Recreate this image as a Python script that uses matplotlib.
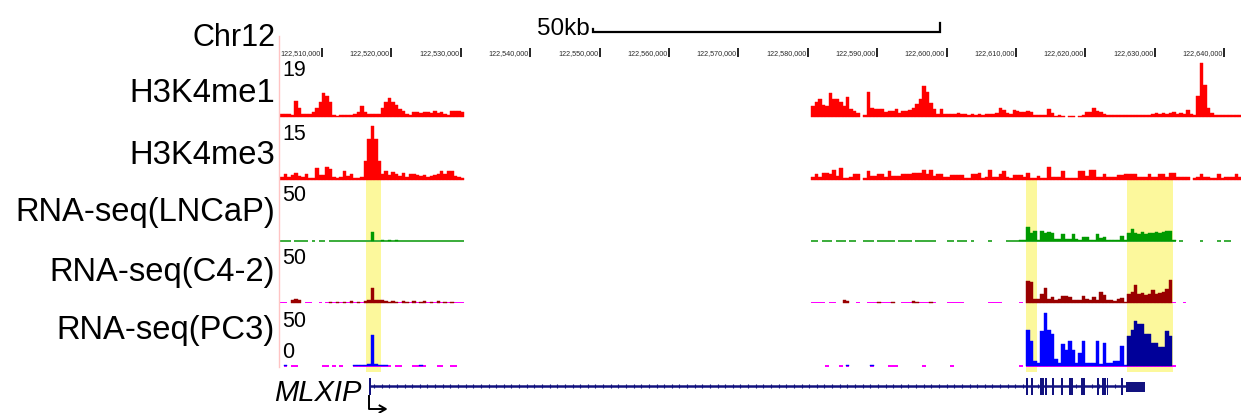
import numpy as np
import matplotlib
matplotlib.use("Agg")
import matplotlib.pyplot as plt
from matplotlib.lines import Line2D
from matplotlib.patches import Rectangle

plt.rcParams['font.family'] = ['Liberation Sans', 'DejaVu Sans']

# ---------------------------------------------------------------- data
CHROM = "Chr12"
GENE_NAME = "MLXIP"
SCALE_LABEL = "50kb"
SCALE_BAR = (122_549_000, 122_599_000)

RULER_TICKS = [122_510_000, 122_520_000, 122_530_000, 122_540_000, 122_550_000,
               122_560_000, 122_570_000, 122_580_000, 122_590_000, 122_600_000,
               122_610_000, 122_620_000, 122_630_000, 122_640_000]

BIN_SIZE = 500
LEFT_START = 122_504_000
RIGHT_START = 122_580_500

TRACK_LABELS = ["H3K4me1", "H3K4me3", "RNA-seq(LNCaP)", "RNA-seq(C4-2)", "RNA-seq(PC3)"]
TRACK_MAX = [19, 15, 50, 50, 50]

H3K4ME1_LEFT = [1, 0.8, 1, 0.5, 5.4, 3, 0.8, 1, 1, 1.5, 3, 5, 8, 7, 5, 0.4, 0.3, 0.6,
                0.6, 0.6, 0.5, 1, 1.5, 3.7, 1.5, 1, 0.8, 0.8, 0.8, 3, 5, 6.5, 5, 4,
                2.5, 2, 1, 0.6, 1.5, 1.5, 1.2, 1.5, 1.5, 1.3, 1.8, 1.2, 1.5, 1, 0.6,
                2, 1.8, 2, 1.5]
H3K4ME1_RIGHT = [3.7, 5, 6, 4, 3.7, 8, 6, 6, 5, 3.7, 6.8, 2.5,
                 2, 1.2, None, 0.5, 8.5, 3, 2.7, 2.7, 2.5, 1.5, 2, 2,
                 2.5, 1.2, 2, 2, 2.2, 2.8, 4.2, 6, 10.6, 8.3, 4.8, 2.5,
                 1, 2.5, 1, 0.8, 1, 1, 1.2, 0.8, 1, 0.6, 0.8, 0.6,
                 1, 0.5, 0.8, 1, 0.8, 1.2, 2.8, 2.2, 1.2, 1, 2.3, 2,
                 1.6, 1.6, 1.8, 1.5, 0.6, 0.5, 0.4, 0.5, 2.5, 1.2, 0.3, 0.4,
                 0.3, None, 0.3, 0.3, None, 0.3, 0.6, 1.4, 1.4, 3.1, 2, 1.4,
                 0.8, 0.5, 0.4, 0.5, 0.4, 0.5, 0.4, 0.5, 0.6, 0.5, 0.6, 0.5,
                 0.6, 0.5, 0.8, 1.2, 1, 1.2, 1, 1.2, 1.5, 0.8, 1.2, 1,
                 2.3, 1, 0.5, 7, 18.4, 11, 3.1, 1.2, 0.5, 0.4, 0.5, 0.4,
                 0.5, 0.4, 0.5, 0.4]

H3K4ME3_LEFT = [0.6, 1.4, 0.8, 1.2, 1.8, 1, 0.6, 1.5, 0.5, 0.4, 3.2, 1.2, 1.3, 3.4,
                3, 0.6, 0.4, 0.6, 2.3, 1, 1.4, 0.5, 0.4, 0.6, 5, 11, 14.5, 11, 5,
                1.5, 2.3, 1.2, 2, 1.5, 1, 1.8, 0.8, 1.4, 1.4, 1.2, 1, 1.2, 0.8, 1,
                1.2, 1.4, 2.3, 1.4, 2.3, 2.3, 1, 0.8, 0.5]
H3K4ME3_RIGHT = [0.6, 1.4, 0.6, 1.8, 1.8, 1.5, 2.7, 1, 3.2, 0.4, 0.4, 0.6,
                 1.4, 1.4, None, 0.3, 2.3, 1, 1, 1.4, 1.4, 0.6, 2.3, 1,
                 1, 1, 1.4, 1.4, 1.4, 1.8, 1.8, 1.8, 2.7, 1.5, 2.7, 1,
                 1.4, 1.4, 0.6, 0.6, 1.1, 1.1, 1.1, 1.1, 0.5, 0.4, 1.4, 1.4,
                 1.8, 0.5, 0.6, 2.7, 0.6, 0.8, 1.4, 2.3, 0.6, 0.5, 1.1, 1.1,
                 1.1, 0.6, 1.8, 0.5, 0.5, 0.9, 0.5, 0.5, 3.5, 0.8, 0.8, 0.8,
                 2.3, 0.5, 0.5, 0.4, 0.5, 2.3, 2.3, 1, 2.5, 2.5, 0.8, 0.8,
                 1.4, 0.8, 0.8, 0.6, 1.1, 1.1, 1.4, 1.4, 1.4, 1.4, 0.8, 0.8,
                 0.8, 1.4, 0.8, 0.6, 1.4, 1.4, 0.6, 1.8, 1.8, 0.8, 0.6, 0.8,
                 0.6, None, 0.4, 0.6, 1.4, 0.6, 0.6, 0.4, 0.5, 1.4, 0.5, 0.8,
                 0.6, 0.8, 1.4, 0.6]

LNCAP_LEFT = [0, 0, 0, None, 0, 0, 0, 0, None, 0, None, 0, 0, None,
              0, 0, 0, 0, 0, 0, 0, 0, 0, 0, 0, 0,
              8, 0, 0, 0.8, 0, 0.8, 0, 0.5,
              0, 0, 0, 0, 0, 0, 0, 0, 0, 0, 0, 0, 0, 0, 0, 0, 0, 0, 0]
LNCAP_RIGHT = [0, 0, None, 0, 0, 0, None, 0, 0, 0, None, 0, 0,
               None, None,
               0, 0, 0, None, 0, 0, 0, 0, 0,
               None,
               0, 0, 0, 0, None, 0, 0, 0, 0, 0, 0,
               None, None, None,
               0, 0, None, 0, 0, 0, None, 0,
               None, None, None, None,
               0,
               None, None, None, None,
               0, 0, 0, 0, 0.5, 0.5,
               12.7, 7.5, 9, 0.5, 9, 7, 8, 7, 2, 1.5,
               6, 2, 2, 6, 2, 0.5, 4, 4, 1, 0.8,
               6, 3, 4, 0.5, 0.5, 0.5, 0.5, 5, 0.5,
               7, 11, 7, 6, 8, 6, 7, 7, 8, 7, 8, 9, 9,
               0.5, None, 0,
               None, None, None, None, None,
               0,
               None, None, None, None,
               0, None, 0, 0,
               None, None, None]

C42_LEFT = [0, 0, None, 2, 3.6, 2.5, None, 0, 0, None,
            None, 0, None, 0, 0.5, 0, 0.8, 0, 0.5, 0,
            1, 0, 0.5, 0, 1.5, 2, 13.6, 2, 2.5, 2,
            1, 0.5, 1, 0.5, 0, 1, 0.5, 0, 1, 0,
            0.5, 1, 0, 0.5, 0, 1, 0, 0.5, 0, 0.5,
            0, 0, 0]
C42_RIGHT = [0, 0, 0, 0, None, 0, 0, None, None, 2, 1.5, None, None,
             0, None, None, 0, 0, 0, 0.5, 0, 0, 0, 0.5, None, None,
             0, 0, 0, 1, 0.5, 0, 0, 0, 0.5, 0, None, None, None,
             0, 0, 0, 0, 0, None, None, None, None, None, None, None,
             0, 0, 0, 0, None, None, None, None, None, 0, None,
             20, 18.6, 3, 3, 8, 13, 3.6, 5, 2, 3,
             5.5, 6, 5, 2, 2, 2, 6, 3, 2.5, 5,
             2.5, 9.7, 7, 2, 2, 1.5, 3, 4, 0.5, 8,
             10, 15.7, 8, 9, 7, 8, 11, 8, 9, 10, 12, 20.3,
             0, None, None, 0,
             None, None, None, None, None, None, None, None,
             None, None, None, None, None, None, None, None]

PC3_LEFT = [None, 0.5, None, 0, 0, None, None, None, None, None,
            None, None, 0, 0, None, 0, None, 0, None, None,
            None, 0.5, 1, 0.8, 1, 1.5, 28, 1.5, 1, 0.5,
            1, 0, None, 0, 0, None, None, None, 0, 0,
            0.5, 0, None, None, None, 0, 0, None, None, 0,
            0, None, None]
PC3_RIGHT = [None, None, None, None, 0, None, None, None, 0, None, 1,
             None, None, None, None, None, None, 1, None, None, None, None,
             0, 0, 0, None, None, None, None, None, None, None, 0,
             None, None, None, None, None, None, None, 0,
             None, None, None, None, None, None, None, None, None, None,
             None, None, None, None, None, None, None, None, None, 0, None,
             32.7, 22.7, 4.5, 3, 31.8, 48.5, 33, 29, 6.5, 3,
             20, 15, 22.7, 15, 3, 12, 22.7, 2.4, 2.4, 2.4,
             22.7, 1.5, 21, 3, 3, 4.5, 4.5, 18, 0.5, 27,
             32.7, 41, 38, 38, 29, 29, 21, 21, 17, 17, 32, 27,
             0, None, None, None, None, None, None, None, None, None, None,
             None, None, None, None, None, None, None, None, None]

HIGHLIGHTS = [(122_516_340, 122_518_500), (122_611_440, 122_613_020),
              (122_626_000, 122_632_620)]

GENE_START = 122_516_900
INTRON_END = 122_626_000
EXONS = [(122_516_800, 122_517_100), (122_611_500, 122_611_700), (122_612_200, 122_612_400),
         (122_613_500, 122_613_700), (122_613_800, 122_614_000), (122_614_250, 122_614_450),
         (122_615_250, 122_615_450), (122_616_550, 122_616_750), (122_617_600, 122_618_250),
         (122_619_400, 122_619_600), (122_619_700, 122_619_900), (122_621_700, 122_621_900),
         (122_622_450, 122_622_650), (122_622_750, 122_622_950), (122_623_050, 122_623_250),
         (122_625_200, 122_625_400)]
UTR = (122_625_900, 122_628_600)

# ---------------------------------------------------------------- style
W, H = 1241, 414
XMIN, XMAX = 122_503_660, 122_642_420
RED = '#ff0000'
GREEN = '#009a00'
GREEN_BASE = '#3fae3f'
DARKRED = '#990000'
MAGENTA = '#ff00ff'
BLUE = '#0000ff'
NAVY = '#000099'
GENE_COLOR = '#12127f'
YELLOW = '#fcf89c'

fig = plt.figure(figsize=(W / 100, H / 100), dpi=100)


def px_axes(x0, y0, x1, y1, z):
    ax = fig.add_axes([x0 / W, 1 - y1 / H, (x1 - x0) / W, (y1 - y0) / H], zorder=z)
    ax.set_xlim(XMIN, XMAX)
    ax.axis('off')
    ax.patch.set_alpha(0)
    return ax


def fig_text(x, y, s, **kw):
    fig.text(x / W, 1 - y / H, s, **kw)


# overlay in pixel-y units: ruler, highlights, gene model
ov = px_axes(278, 0, 1241, 414, 0)
ov.set_ylim(414, 0)

for s, e in HIGHLIGHTS:
    ov.fill_between([s, e], 181, 373, color=YELLOW, lw=0, zorder=0)

for t in RULER_TICKS:
    ov.text(t - 220, 53.5, f"{t:,}", ha='right', va='center', fontsize=5.2,
            color='#2a2a2a')
    ov.plot([t, t], [48.5, 57.5], color='black', lw=1.2, solid_capstyle='butt')

s, e = SCALE_BAR
ov.plot([s, s, e, e], [29.5, 33, 33, 24], color='black', lw=1.6,
        solid_joinstyle='miter')
ov.text(s - 350, 35, SCALE_LABEL, ha='right', va='baseline', fontsize=17.5)

# gene model
ov.plot([GENE_START, INTRON_END], [387, 387], color=GENE_COLOR, lw=1.8, zorder=3)
chev = np.arange(GENE_START + 600, INTRON_END, 1100)
ov.plot(chev, np.full(chev.size, 387), ls='none', marker='|', ms=3.5, mew=0.8,
        color=GENE_COLOR, zorder=3)
for a, b in EXONS:
    ov.add_patch(Rectangle((a, 379), b - a, 17, color=GENE_COLOR, lw=0, zorder=4))
ov.add_patch(Rectangle((UTR[0], 382.5), UTR[1] - UTR[0], 10, color=GENE_COLOR,
                       lw=0, zorder=4))
g = GENE_START - 100
ov.plot([g, g, g + 2300], [397, 410, 410], color='black', lw=1.4, zorder=5)
ov.plot([g + 1500, g + 2400, g + 1500], [406.5, 410, 413.5], color='black',
        lw=1.4, zorder=5)

# tracks
tracks = [
    (H3K4ME1_LEFT, H3K4ME1_RIGHT, RED, RED, 117.5),
    (H3K4ME3_LEFT, H3K4ME3_RIGHT, RED, RED, 180.5),
    (LNCAP_LEFT, LNCAP_RIGHT, GREEN, GREEN_BASE, 242),
    (C42_LEFT, C42_RIGHT, DARKRED, MAGENTA, 303.5),
    (PC3_LEFT, PC3_RIGHT, BLUE, MAGENTA, 367),
]
label_y = [94, 156, 213, 272, 331]
num_y = [71, 135, 196, 258, 322]
for i, (left, right, color, base_color, base_y) in enumerate(tracks):
    ymax = TRACK_MAX[i]
    upp = ymax / 55.0
    ax = px_axes(278, base_y - 55, 1241, base_y + 2, 1)
    ax.set_ylim(-2 * upp, ymax)
    vals = np.array(left + right, dtype=float)
    pos = np.concatenate([LEFT_START + BIN_SIZE * np.arange(len(left)),
                          RIGHT_START + BIN_SIZE * np.arange(len(right))])
    cov = ~np.isnan(vals)
    ax.bar(pos[cov], 1.6 * upp, bottom=-0.8 * upp, width=BIN_SIZE, align='edge',
           color=base_color, lw=0)
    sig = cov & (vals > 0)
    if i == 4:
        lo, hi = HIGHLIGHTS[2]
        cols = [NAVY if lo <= p < hi else BLUE for p in pos[sig]]
    else:
        cols = color
    ax.bar(pos[sig], vals[sig], width=BIN_SIZE, align='edge', color=cols,
           edgecolor=cols, lw=0.3)
    fig_text(275, label_y[i], TRACK_LABELS[i], ha='right', va='center', fontsize=23.6)
    fig_text(282, num_y[i], str(ymax), ha='left', va='center', fontsize=15.5)

fig_text(282, 353, "0", ha='left', va='center', fontsize=15.5)
fig_text(275, 38, CHROM, ha='right', va='center', fontsize=22)
fig_text(361, 393, GENE_NAME, ha='right', va='center', fontsize=21, style='italic')

fig.add_artist(Line2D([278.5 / W] * 2, [1 - 37 / H, 1 - 368 / H], color='#ffc4c4',
                      lw=1))

fig.savefig("out.png", dpi=100)
